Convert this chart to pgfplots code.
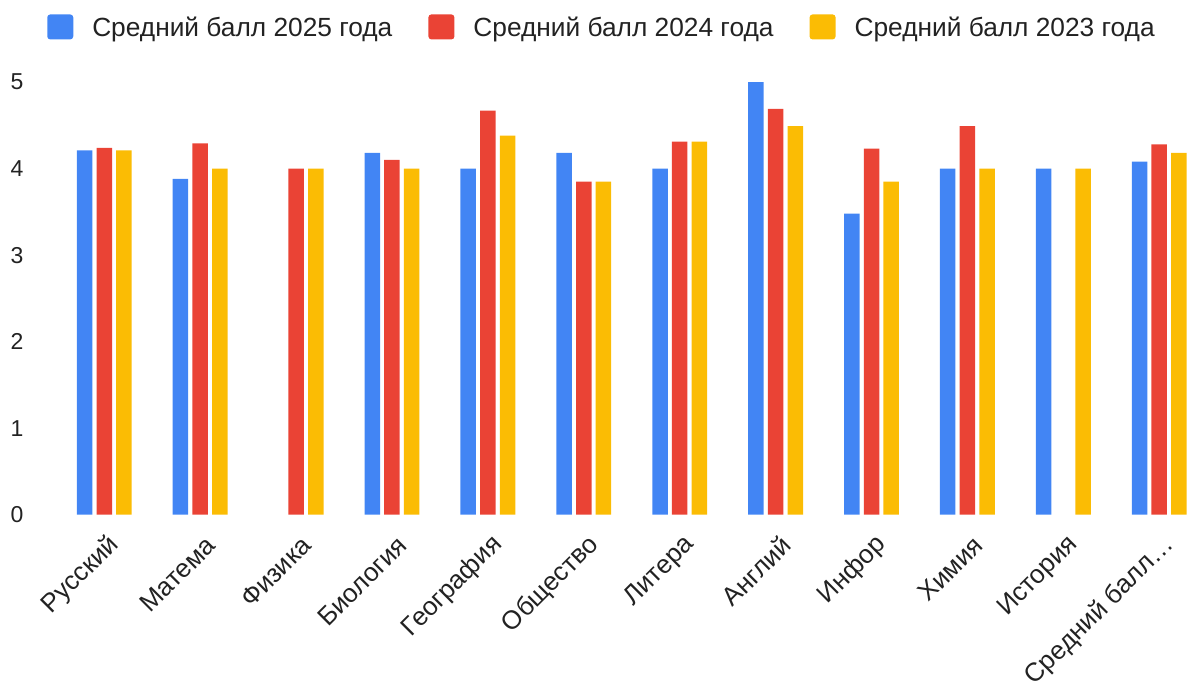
\documentclass[border=0pt]{standalone}
\usepackage{fontspec}
\setmainfont{Liberation Sans}
\usepackage{pgfplots}
\pgfplotsset{compat=1.18}
\definecolor{gblue}{HTML}{4285F4}
\definecolor{gred}{HTML}{EA4335}
\definecolor{gyellow}{HTML}{FBBC04}
\definecolor{txt}{HTML}{222222}
\begin{document}
\begin{tikzpicture}
\useasboundingbox (0,0) rectangle (594pt,341pt);
\begin{axis}[
  at={(28.15pt,83.65pt)}, anchor=south west,
  scale only axis,
  width=565.85pt, height=216.35pt,
  ybar=2.1pt, bar width=7.75pt,
  xmin=-0.5, xmax=11.3,
  ymin=0, ymax=5,
  axis line style={draw=none},
  major tick length=0pt,
  xtick={0,...,11},
  xticklabels={Русский,Матема,Физика,Биология,География,Общество,Литера,Англий,Инфор,Химия,История,Средний балл…},
  ytick={0,1,2,3,4,5},
  /pgf/number format/assume math mode=true,
  tick label style={font=\fontsize{11.5}{13}\selectfont, text=txt},
  yticklabel style={anchor=center, xshift=-19.6pt},
  xticklabel style={rotate=45, anchor=east, font=\fontsize{13}{15}\selectfont, xshift=-2pt, yshift=-13pt},
  legend columns=3,
  legend style={at={(-0.008,1.127)}, anchor=west, draw=none, fill=none,
    inner sep=0pt, outer sep=0pt,
    nodes={inner sep=0pt, text=txt, font=\fontsize{13.15}{15}\selectfont},
    /tikz/every odd column/.append style={column sep=9.5pt},
    /tikz/every even column/.append style={column sep=18pt}},
  legend image code/.code={\fill[rounded corners=1.5pt] (0pt,-5.5pt) rectangle (13pt,7pt);},
]
\addplot[draw=none, fill=gblue] coordinates {
(0,4.21) (1,3.88) (3,4.18) (4,4.0) (5,4.18) (6,4.0) (7,5.0) (8,3.48) (9,4.0) (10,4.0) (11,4.08)};
\addplot[draw=none, fill=gred] coordinates {
(0,4.24) (1,4.29) (2,4.0) (3,4.10) (4,4.67) (5,3.85) (6,4.31) (7,4.69) (8,4.23) (9,4.49) (11,4.28)};
\addplot[draw=none, fill=gyellow] coordinates {
(0,4.21) (1,4.0) (2,4.0) (3,4.0) (4,4.38) (5,3.85) (6,4.31) (7,4.49) (8,3.85) (9,4.0) (10,4.0) (11,4.18)};
\legend{Средний балл 2025 года,Средний балл 2024 года,Средний балл 2023 года}
\end{axis}
\end{tikzpicture}
\end{document}
